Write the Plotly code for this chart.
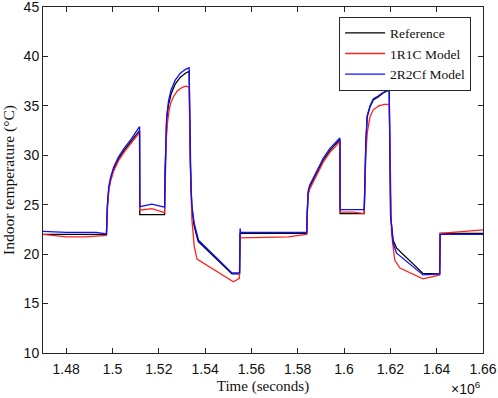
import plotly.graph_objects as go

# time in units of 1e6 seconds
ref_t = [1.470, 1.4972, 1.4974, 1.4978, 1.4984, 1.4992, 1.5005, 1.5025, 1.5050, 1.5080, 1.5105, 1.5117,
         1.5118, 1.5225, 1.5227, 1.5232, 1.5235, 1.5242, 1.5253, 1.5271, 1.5293, 1.5315, 1.5331,
         1.5336, 1.5339, 1.5343, 1.5353, 1.5370, 1.5516, 1.5549, 1.5551, 1.5836, 1.5839, 1.5841, 1.5845,
         1.5852, 1.5867, 1.5889, 1.5910, 1.5939, 1.5968, 1.5982, 1.5983, 1.6087, 1.6094, 1.6100, 1.6112,
         1.6126, 1.6147, 1.6169, 1.6195, 1.6201, 1.6212, 1.6227, 1.6341, 1.6413, 1.6415, 1.660]
ref_v = [22.0, 22.0, 22.0, 24.8, 26.6, 27.6, 28.6, 29.6, 30.5, 31.4, 32.1, 32.5,
         24.0, 24.0, 28.5, 32.7, 33.8, 35.1, 36.2, 37.2, 37.9, 38.3, 38.5,
         29.5, 26.2, 24.5, 22.8, 21.3, 18.0, 18.0, 22.1, 22.1, 22.1, 24.1, 26.2,
         26.8, 27.5, 28.5, 29.5, 30.5, 31.2, 31.6, 24.1, 24.1, 31.2, 33.9, 34.9,
         35.6, 35.9, 36.3, 36.6, 23.8, 21.4, 20.6, 18.05, 18.0, 22.1, 22.1]

r1c_t = [1.470, 1.475, 1.480, 1.488, 1.4972, 1.4974, 1.4978, 1.4984, 1.4992, 1.5005, 1.5025, 1.5050, 1.5080,
         1.5105, 1.5117, 1.5118, 1.5170, 1.5225, 1.5227, 1.5232, 1.5238, 1.5245, 1.5253, 1.5265, 1.5280,
         1.5300, 1.5315, 1.5331, 1.5336, 1.5343, 1.5353, 1.5365, 1.5522, 1.5548, 1.5551, 1.5700, 1.5760,
         1.5836, 1.5839, 1.5841, 1.5845, 1.5852, 1.5867, 1.5889, 1.5910, 1.5939, 1.5968, 1.5982, 1.5983,
         1.6040, 1.6087, 1.6094, 1.6100, 1.6112, 1.6126, 1.6150, 1.6175, 1.6195, 1.6200, 1.6205, 1.6219,
         1.6241, 1.6341, 1.6413, 1.6415, 1.660]
r1c_v = [22.0, 21.85, 21.75, 21.75, 21.9, 21.9, 24.6, 26.4, 27.4, 28.4, 29.4, 30.3, 31.2,
         31.9, 32.3, 24.45, 24.6, 24.2, 28.0, 31.5, 33.4, 34.6, 35.4, 36.0, 36.5,
         36.85, 37.0, 36.9, 29.0, 23.5, 20.8, 19.5, 17.2, 17.55, 21.65, 21.7, 21.75,
         22.0, 22.0, 23.9, 26.0, 26.6, 27.3, 28.3, 29.3, 30.3, 31.0, 31.45, 24.25,
         24.25, 24.1, 30.0, 32.25, 33.9, 34.6, 35.0, 35.15, 35.15, 30.0, 22.1, 19.4,
         18.6, 17.5, 17.9, 22.1, 22.45]

r2c_t = [1.470, 1.480, 1.493, 1.4972, 1.4974, 1.4978, 1.4984, 1.4992, 1.5005, 1.5025, 1.5050, 1.5080, 1.5105,
         1.5117, 1.5118, 1.5170, 1.5225, 1.5227, 1.5232, 1.5235, 1.5242, 1.5253, 1.5271, 1.5293, 1.5315,
         1.5331, 1.5336, 1.5339, 1.5343, 1.5353, 1.5372, 1.5516, 1.5549, 1.5551, 1.5553, 1.5836, 1.5839,
         1.5841, 1.5845, 1.5852, 1.5867, 1.5889, 1.5910, 1.5939, 1.5968, 1.5982, 1.5983, 1.6087, 1.6094,
         1.6100, 1.6112, 1.6126, 1.6147, 1.6169, 1.6195, 1.6201, 1.6212, 1.6227, 1.6341, 1.6413, 1.6415, 1.660]
r2c_v = [22.3, 22.2, 22.2, 22.05, 22.05, 25.0, 26.8, 27.8, 28.8, 29.8, 30.7, 31.6, 32.4,
         32.9, 24.8, 25.05, 24.75, 28.8, 33.0, 34.1, 35.5, 36.6, 37.6, 38.3, 38.7,
         38.85, 29.8, 26.6, 24.9, 23.1, 21.4, 18.1, 18.1, 22.6, 22.2, 22.2, 22.2,
         24.3, 26.4, 27.0, 27.7, 28.7, 29.7, 30.7, 31.4, 31.75, 24.5, 24.5, 31.3,
         34.0, 35.0, 35.7, 36.0, 36.35, 36.65, 24.0, 21.1, 20.1, 17.9, 18.0, 22.0, 22.0]

x_ticks = [1.48, 1.50, 1.52, 1.54, 1.56, 1.58, 1.60, 1.62, 1.64, 1.66]
x_tick_labels = ["1.48", "1.5", "1.52", "1.54", "1.56", "1.58", "1.6", "1.62", "1.64", "1.66"]
y_ticks = [10, 15, 20, 25, 30, 35, 40, 45]

series_names = ["Reference", "1R1C Model", "2R2Cf Model"]
series_colors = ["black", "#ff2020", "#1010ff"]

fig = go.Figure()
for t, v, name, col in zip([ref_t, r1c_t, r2c_t], [ref_v, r1c_v, r2c_v], series_names, series_colors):
    fig.add_trace(go.Scatter(x=t, y=v, mode="lines", name=name,
                             line=dict(color=col, width=1.3)))

axis_common = dict(showline=True, linecolor="#262626", linewidth=1, mirror="ticks",
                   ticks="inside", ticklen=5, tickcolor="#262626", showgrid=False, zeroline=False,
                   automargin=False, ticklabeloverflow="allow",
                   tickfont=dict(family="Liberation Sans, Arial", size=14, color="#111"))

fig.update_xaxes(range=[1.47, 1.66], tickvals=x_ticks, ticktext=x_tick_labels,
                 title=dict(text="Time (seconds)", font=dict(family="Liberation Serif, Times New Roman", size=15, color="#111"),
                            standoff=4),
                 ticklabelstandoff=3, **axis_common)
fig.update_yaxes(range=[10, 45], tickvals=y_ticks,
                 title=dict(text="Indoor temperature (°C)", font=dict(family="Liberation Serif, Times New Roman", size=15.5, color="#111"),
                            standoff=5),
                 **axis_common)

fig.add_annotation(text="×10<sup>6</sup>", xref="paper", yref="paper", x=1.0, y=-0.068,
                   xanchor="right", yanchor="top", showarrow=False,
                   font=dict(family="Liberation Sans, Arial", size=14, color="#111"))

fig.update_layout(
    width=498, height=398,
    margin=dict(l=43, r=15, t=7, b=45, autoexpand=False),
    paper_bgcolor="white", plot_bgcolor="white",
    legend=dict(x=0.973, y=0.972, xanchor="right", yanchor="top",
                bordercolor="#262626", borderwidth=1, bgcolor="white",
                font=dict(family="Liberation Serif, Times New Roman", size=13.5, color="#111"),
                tracegroupgap=0, itemwidth=40),
    showlegend=True,
)

fig.write_html("out.html", config={"displayModeBar": False},
               post_script="document.body.style.margin='0';")
